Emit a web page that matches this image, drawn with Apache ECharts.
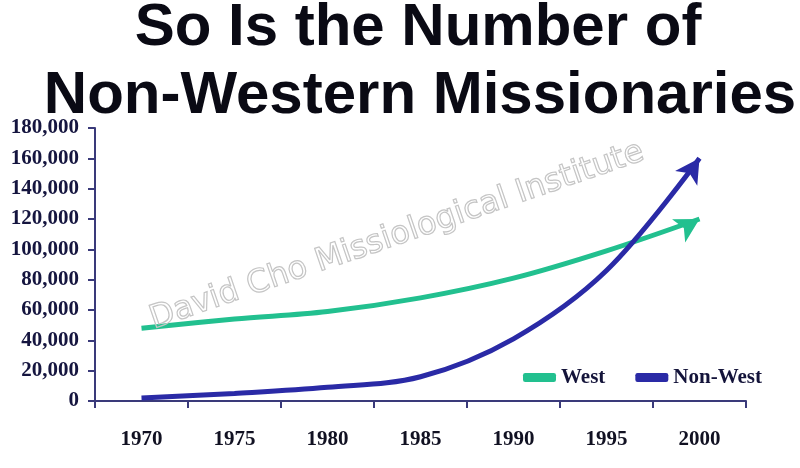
<!DOCTYPE html>
<html><head><meta charset="utf-8">
<script src="https://cdn.jsdelivr.net/npm/echarts@6/dist/echarts.min.js"></script>
<style>html,body{margin:0;padding:0;background:#fff}#c{width:800px;height:468px}</style>
</head><body><div id="c"></div>
<script>
const years = ['1970','1975','1980','1985','1990','1995','2000'];
const west = [48000, 54000, 59000, 68000, 81000, 99000, 120000];
const nonWest = [2000, 5000, 9000, 16000, 41000, 86000, 160000];
const yTicks = [0, 20000, 40000, 60000, 80000, 100000, 120000, 140000, 160000, 180000];
const titleLines = ['So Is the Number of', 'Non-Western Missionaries'];
const watermark = 'David Cho Missiological Institute';

const chart = echarts.init(document.getElementById('c'), null, {renderer: 'canvas'});
const serif = '"Liberation Serif", "DejaVu Serif", serif';
const sans = '"Liberation Sans", Arial, sans-serif';
function fmt(v){ if (v === 0) return '0'; const s = String(v); return s.slice(0, s.length-3) + ',' + s.slice(-3); }

function build(rotW, rotN) {
  return {
    backgroundColor: '#ffffff',
    animation: false,
    legend: {
      left: 518, top: 362, itemWidth: 33, itemHeight: 9, itemGap: 30, itemTextGap: 3,
      icon: 'roundRect',
      textStyle: {fontFamily: serif, fontWeight: 'bold', fontSize: 21, color: '#14143a'},
      data: ['West', 'Non-West']
    },
    grid: {left: 95, right: 54, top: 128, bottom: 67},
    xAxis: {
      type: 'category', data: years, boundaryGap: true,
      axisLine: {lineStyle: {color: '#3a3a7a', width: 2}},
      axisTick: {show: true, length: 7, lineStyle: {color: '#3a3a7a', width: 2}},
      axisLabel: {margin: 28, fontFamily: serif, fontWeight: 'bold', fontSize: 21, color: '#111122'}
    },
    yAxis: {
      type: 'value', min: 0, max: 180000, interval: 20000,
      axisLine: {show: true, lineStyle: {color: '#3a3a7a', width: 2}},
      axisTick: {show: true, length: 7, lineStyle: {color: '#3a3a7a', width: 2}},
      splitLine: {show: false},
      axisLabel: {margin: 16, fontFamily: serif, fontWeight: 'bold', fontSize: 21, color: '#15153f',
        formatter: v => yTicks.includes(v) ? fmt(v) : ''}
    },
    graphic: [
      {type: 'text', x: 418, y: 28, z: 50,
       style: {text: titleLines[0], font: 'bold 60px ' + sans, fill: '#0a0a14', align: 'center', verticalAlign: 'middle'}},
      {type: 'text', x: 420, y: 96, z: 50,
       style: {text: titleLines[1], font: 'bold 60px ' + sans, fill: '#0a0a14', align: 'center', verticalAlign: 'middle'}},
      {type: 'text', x: 397, y: 236, rotation: 19 * Math.PI / 180, z: 100,
       style: {text: watermark, font: '32px "DejaVu Sans", "Open Sans", sans-serif', fill: 'rgba(255,255,255,0.05)',
        stroke: '#c4c4c4', lineWidth: 1.2, align: 'center', verticalAlign: 'middle'}}
    ],
    series: [
      {name: 'West', type: 'line', smooth: 0.35, color: '#22c08f',
       lineStyle: {width: 5}, showSymbol: true,
       data: west.map((v, i) => i === west.length - 1
         ? {value: v, symbol: 'arrow', symbolSize: [20, 24], symbolRotate: rotW, itemStyle: {color: '#22c08f'}}
         : {value: v, symbol: 'none'})},
      {name: 'Non-West', type: 'line', smooth: 0.35, color: '#2a2aa6',
       lineStyle: {width: 5}, showSymbol: true,
       data: nonWest.map((v, i) => i === nonWest.length - 1
         ? {value: v, symbol: 'arrow', symbolSize: [20, 24], symbolRotate: rotN, itemStyle: {color: '#2a2aa6'}}
         : {value: v, symbol: 'none'})}
    ]
  };
}
chart.setOption(build(-77, -38));
function ang(arr) {
  const n = arr.length;
  const a = chart.convertToPixel({seriesIndex: 0}, [n - 2, arr[n - 2]]);
  const b = chart.convertToPixel({seriesIndex: 0}, [n - 1, arr[n - 1]]);
  const dx = b[0] - a[0], dy = b[1] - a[1];
  return -Math.atan2(dx, -dy) * 180 / Math.PI * 0.85;
}
chart.setOption(build(ang(west), ang(nonWest)));
</script></body></html>
